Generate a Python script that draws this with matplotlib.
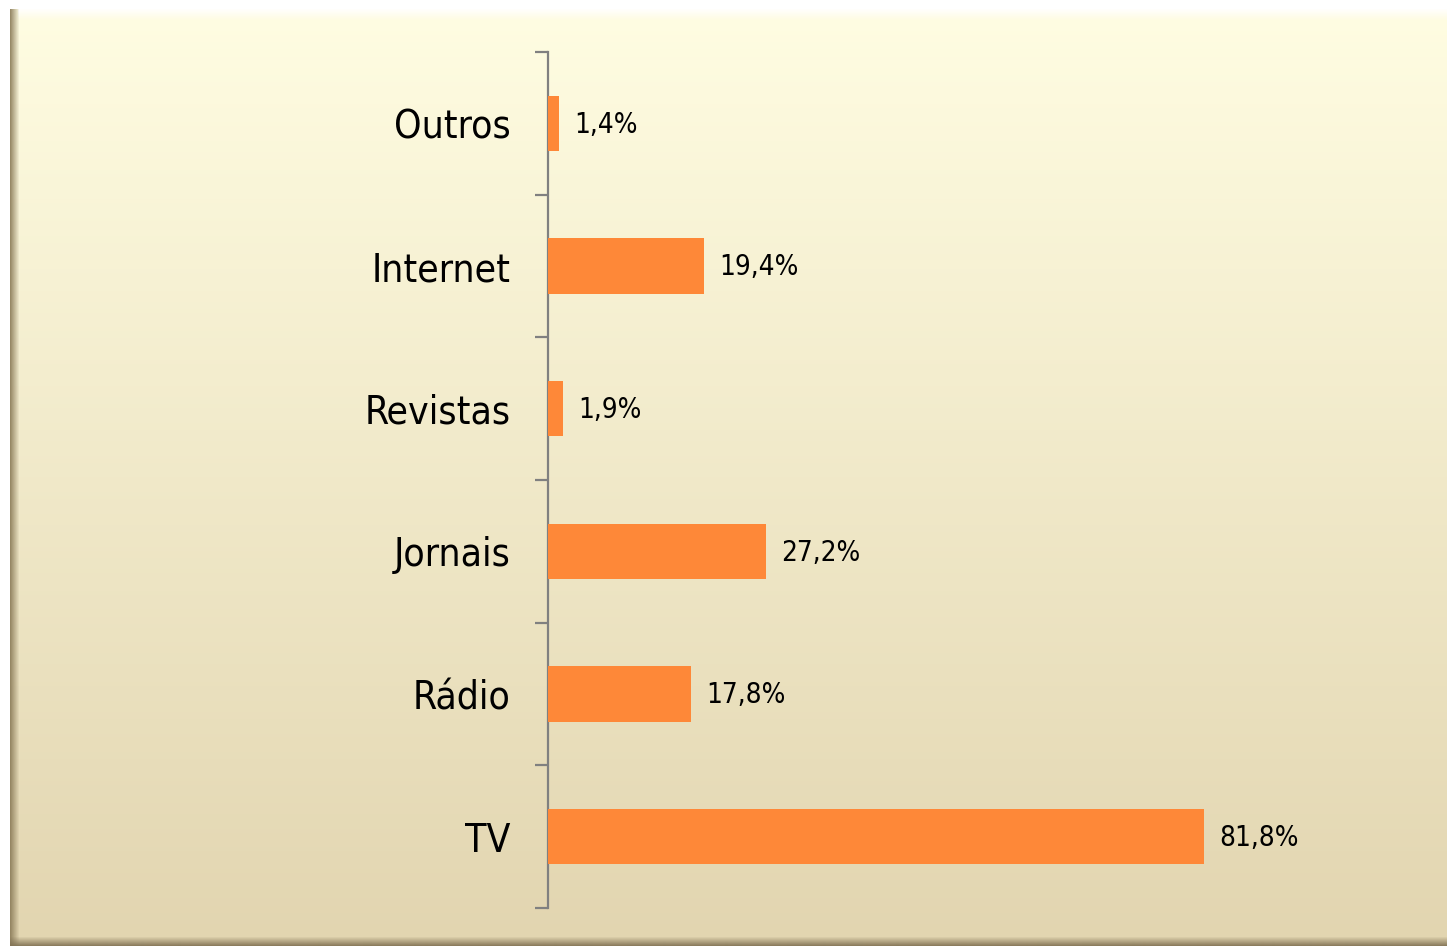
import matplotlib
matplotlib.use("Agg")
import matplotlib.pyplot as plt
import matplotlib.transforms as mtransforms
import numpy as np
from matplotlib import font_manager
from matplotlib.font_manager import FontProperties

categories = ["TV", "Rádio", "Jornais", "Revistas", "Internet", "Outros"]
values = [81.8, 17.8, 27.2, 1.9, 19.4, 1.4]
labels = ["81,8%", "17,8%", "27,2%", "1,9%", "19,4%", "1,4%"]

# look for a narrow / condensed sans font
cand = None
for f in font_manager.fontManager.ttflist:
    nm = f.name
    if "Serif" in nm or "Mono" in nm or f.style != "normal":
        continue
    if f.weight not in ("normal", 400, "regular", "book"):
        continue
    narrow = ("Narrow" in nm or "Condensed" in nm or str(f.stretch) in ("condensed", "semi-condensed")
              or "Condensed" in f.fname or "Narrow" in f.fname)
    if narrow and ("Sans" in nm or "Narrow" in nm or "Roboto" in nm):
        if cand is None or "Liberation" in nm:
            cand = f

def fp(size):
    if cand is not None:
        return FontProperties(fname=cand.fname, size=size)
    return FontProperties(family=["Liberation Sans", "DejaVu Sans"], size=size)

W, H = 1447, 948
fig = plt.figure(figsize=(W / 100, H / 100), dpi=100)
fig.patch.set_facecolor("white")

bg = fig.add_axes([0, 0, 1, 1])
bg.axis("off")
x0, y0, x1, y1 = 10, 9, W, 946
top = np.array([255, 253, 226]) / 255
bot = np.array([226, 213, 176]) / 255
t = np.linspace(0, 1, 256)[:, None]
grad = top * (1 - t) + bot * t
grad = np.repeat(grad[:, None, :], 2, axis=1)
bg.imshow(grad, extent=[x0, x1, y1, y0], aspect="auto", zorder=0)
hl = np.zeros((12, 2, 4))
hl[..., :3] = 1
hl[..., 3] = np.linspace(0.9, 0, 12)[:, None]
bg.imshow(hl, extent=[x0 + 8, x1, y0 + 12, y0], aspect="auto", zorder=1)
ls = np.zeros((2, 10, 4))
ls[..., :3] = np.array([140, 125, 90]) / 255
ls[..., 3] = np.linspace(0.9, 0, 10)[None, :]
bg.imshow(ls, extent=[x0, x0 + 10, y1, y0], aspect="auto", zorder=1)
bs = np.zeros((10, 2, 4))
bs[..., :3] = np.array([130, 115, 85]) / 255
bs[..., 3] = np.linspace(0, 0.9, 10)[:, None]
bg.imshow(bs, extent=[x0, x1, y1, y1 - 10], aspect="auto", zorder=1)
bg.set_xlim(0, W)
bg.set_ylim(H, 0)

ax = fig.add_axes([548 / W, 1 - 908 / H, 802 / W, 856 / H])
ax.patch.set_alpha(0)
y = np.arange(len(categories))
ax.barh(y, values, height=0.39, color="#FE8838", zorder=3)
ax.set_xlim(0, 100)
ax.set_ylim(-0.5, len(categories) - 0.5)
for yi, v, lab in zip(y, values, labels):
    ax.annotate(lab, (v, yi), xytext=(11, -1), textcoords="offset points",
                va="center", ha="left", fontproperties=fp(20), color="black")

for s in ["top", "right", "bottom"]:
    ax.spines[s].set_visible(False)
ax.spines["left"].set_color("#808080")
ax.spines["left"].set_linewidth(1.6)
ax.set_xticks([])
ax.set_yticks(y)
ax.set_yticklabels(categories)
off = mtransforms.ScaledTranslation(0, -2 / 72, fig.dpi_scale_trans)
for lab in ax.get_yticklabels():
    lab.set_fontproperties(fp(28))
    lab.set_transform(lab.get_transform() + off)
ax.tick_params(axis="y", which="major", length=0, pad=27)
ax.set_yticks(np.arange(-0.5, len(categories)), minor=True)
ax.tick_params(axis="y", which="minor", length=9.5, width=1.6, color="#808080", direction="out")

fig.savefig("out.png", dpi=100, facecolor="white")
